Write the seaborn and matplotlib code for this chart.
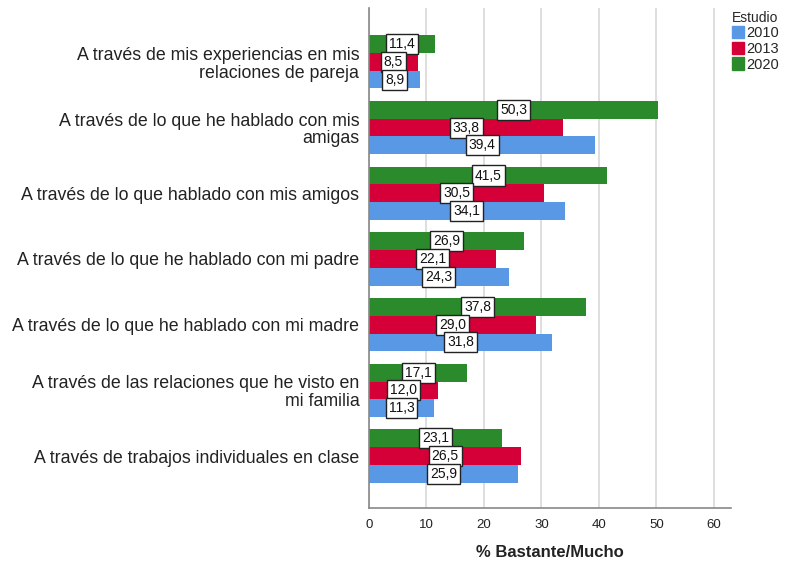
import matplotlib
matplotlib.use("Agg")
import matplotlib.pyplot as plt
import matplotlib.patches as mpatches
import seaborn as sns
import pandas as pd

categories = [
    "A través de mis experiencias en mis\nrelaciones de pareja",
    "A través de lo que he hablado con mis\namigas",
    "A través de lo que hablado con mis amigos",
    "A través de lo que he hablado con mi padre",
    "A través de lo que he hablado con mi madre",
    "A través de las relaciones que he visto en\nmi familia",
    "A través de trabajos individuales en clase",
]
years = ["2010", "2013", "2020"]
values_2010 = [8.9, 39.4, 34.1, 24.3, 31.8, 11.3, 25.9]
values_2013 = [8.5, 33.8, 30.5, 22.1, 29.0, 12.0, 26.5]
values_2020 = [11.4, 50.3, 41.5, 26.9, 37.8, 17.1, 23.1]
x_ticks = [0, 10, 20, 30, 40, 50, 60]

colors = {"2010": "#5898E4", "2013": "#D50037", "2020": "#2B8A2B"}

rows = []
for yr, vals in zip(years, [values_2010, values_2013, values_2020]):
    for cat, v in zip(categories, vals):
        rows.append({"cat": cat, "year": yr, "val": v})
df = pd.DataFrame(rows)

sns.set_theme(style="white")
plt.rcParams["font.family"] = ["Liberation Sans", "DejaVu Sans"]

fig = plt.figure(figsize=(7.88, 5.64), dpi=100)
ax = fig.add_axes([369 / 788, 1 - 508 / 564, (731 - 369) / 788, 500 / 564])

hue_order = ["2020", "2013", "2010"]
sns.barplot(data=df, y="cat", x="val", hue="year", hue_order=hue_order,
            order=categories, palette=colors, orient="h", width=0.81,
            errorbar=None, legend=False, ax=ax, linewidth=0, saturation=1)

ax.set_xlim(0, 63)
ax.set_ylim(6.79, -0.82)
ax.set_xticks(x_ticks)
ax.set_xticklabels([str(t) for t in x_ticks], fontsize=9.5, color="#222222")
ax.tick_params(axis="y", labelsize=12.8, length=0, pad=7, colors="#222222")
ax.tick_params(axis="x", length=0, pad=8)
for lbl in ax.get_yticklabels():
    lbl.set_multialignment("right")
    lbl.set_linespacing(1.05)
ax.grid(axis="x", color="#D4D4D4", linewidth=1.1)
ax.set_axisbelow(True)
for s in ["top", "right"]:
    ax.spines[s].set_visible(False)
for s in ["left", "bottom"]:
    ax.spines[s].set_color("#888888")
    ax.spines[s].set_linewidth(1.2)
ax.set_ylabel("")
ax.set_xlabel("% Bastante/Mucho", fontsize=12, fontweight="bold",
              color="#222222", labelpad=10)

# value labels in white boxes at the middle of each bar
for container in ax.containers:
    for bar in container:
        w = bar.get_width()
        yc = bar.get_y() + bar.get_height() / 2
        ax.text(w / 2, yc, f"{w:.1f}".replace(".", ","), ha="center", va="center",
                fontsize=10, color="#111111", zorder=5,
                bbox=dict(boxstyle="square,pad=0.22", facecolor="white",
                          edgecolor="#222222", linewidth=1))

handles = [mpatches.Patch(color=colors[y], label=y) for y in years]
leg = fig.legend(handles=handles, title="Estudio", loc="upper left",
                 bbox_to_anchor=(729 / 788, 1 - 8 / 564), frameon=False,
                 fontsize=10.5, title_fontsize=10, handlelength=0.85,
                 handleheight=0.9, handletextpad=0.15, labelspacing=0.1,
                 borderaxespad=0, borderpad=0.2)
leg._legend_box.align = "left"

fig.savefig("out.png", dpi=100)
